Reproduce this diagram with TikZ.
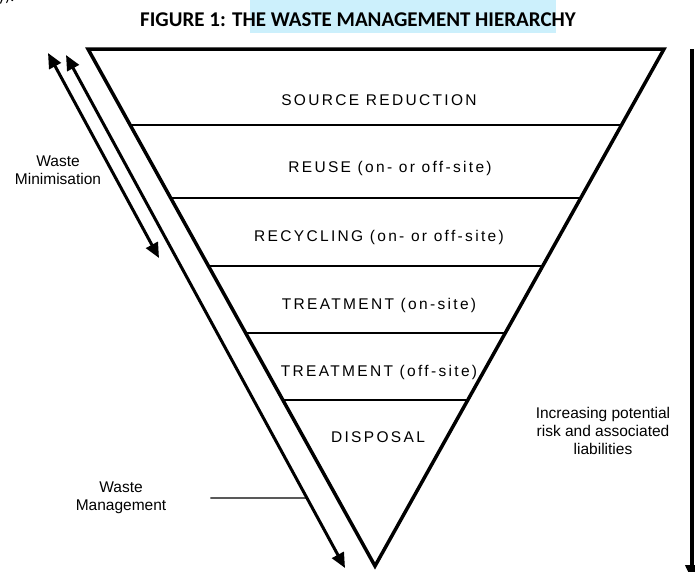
\documentclass[tikz,border=0pt]{standalone}
\usepackage{fontspec}
\setmainfont{Liberation Sans}
\newfontfamily\lblfont[LetterSpace=15]{Liberation Sans}
\newfontfamily\ttlfont{Carlito}
\usepackage{xcolor}
\usetikzlibrary{arrows.meta, calc}
\definecolor{hilite}{RGB}{204,240,252}
\tikzset{
  lvl/.style  = {font=\lblfont\fontsize{15.5}{17}\selectfont, inner sep=0pt},
  note/.style = {font=\fontsize{15.5}{18}\selectfont, align=center, inner sep=0pt},
  side/.style = {line width=3.5pt, line join=miter},
  sep/.style  = {line width=1.4pt},
  ptr/.style  = {line width=1.3pt},
  fl/.style   = {line width=3pt, -{Triangle[length=15pt,width=13pt]}},
  fll/.style  = {line width=3pt,
                 {Triangle[length=15pt,width=13pt]}-{Triangle[length=15pt,width=13pt]}},
}

\begin{document}
\begin{tikzpicture}[x=1pt, y=-1pt]
  \useasboundingbox (0,0) rectangle (695,571);
  % caption with its marker band
  \fill[hilite] (250,0) rectangle (556,33);
  \node[font=\ttlfont\bfseries\fontsize{21}{24}\selectfont] (ttl) at (358,20)
    {FIGURE 1: THE WASTE MANAGEMENT HIERARCHY};
  \node[font=\ttlfont\fontsize{16}{18}\selectfont, anchor=base west, inner sep=0pt]
    (frag) at (-2,1) {y).};
  % inverted triangle
  \coordinate (tl)  at (88,49);
  \coordinate (tr)  at (664,49);
  \coordinate (bot) at (375,566);
  \draw[side] (tl) -- (tr) -- (bot) -- cycle;
  \foreach \t [count=\i] in {0.147,0.288,0.420,0.549,0.679}
    \draw[sep] ($(tl)!\t!(bot)$) coordinate (l\i) -- ($(tr)!\t!(bot)$) coordinate (r\i);
  \node[lvl] (src)    at (379,100) {SOURCE REDUCTION};
  \node[lvl] (reuse)  at (390,168) {REUSE (on- or off-site)};
  \node[lvl] (recy)   at (379,237) {RECYCLING (on- or off-site)};
  \node[lvl] (trton)  at (379,305) {TREATMENT (on-site)};
  \node[lvl] (trtoff) at (379,372) {TREATMENT (off-site)};
  \node[lvl] (disp)   at (378,437) {DISPOSAL};
  % left: minimisation and management ranges
  \coordinate (minA) at (48,53);  \coordinate (minB) at (159,258);
  \coordinate (mgtA) at (66,55);  \coordinate (mgtB) at (345,568);
  \draw[fll] (minA) -- (minB);
  \draw[fll] (mgtA) -- (mgtB);
  \node[note] (wmin) at (58,170) {Waste\\Minimisation};
  \node[note] (wmgt) at (121,498) {Waste\\Management};
  \coordinate (mgtpt) at ($(mgtA)!0.8635!(mgtB)$);
  \draw[ptr] ($(wmgt.east)+(44,0)$) -- (mgtpt);
  % right: risk arrow
  \coordinate (rskA) at (692,49);  \coordinate (rskB) at (692,580);
  \draw[fl, line width=4.5pt] (rskA) -- (rskB);
  \node[note] (risk) at (603,431) {Increasing potential\\risk and associated\\liabilities};
\end{tikzpicture}
\end{document}
